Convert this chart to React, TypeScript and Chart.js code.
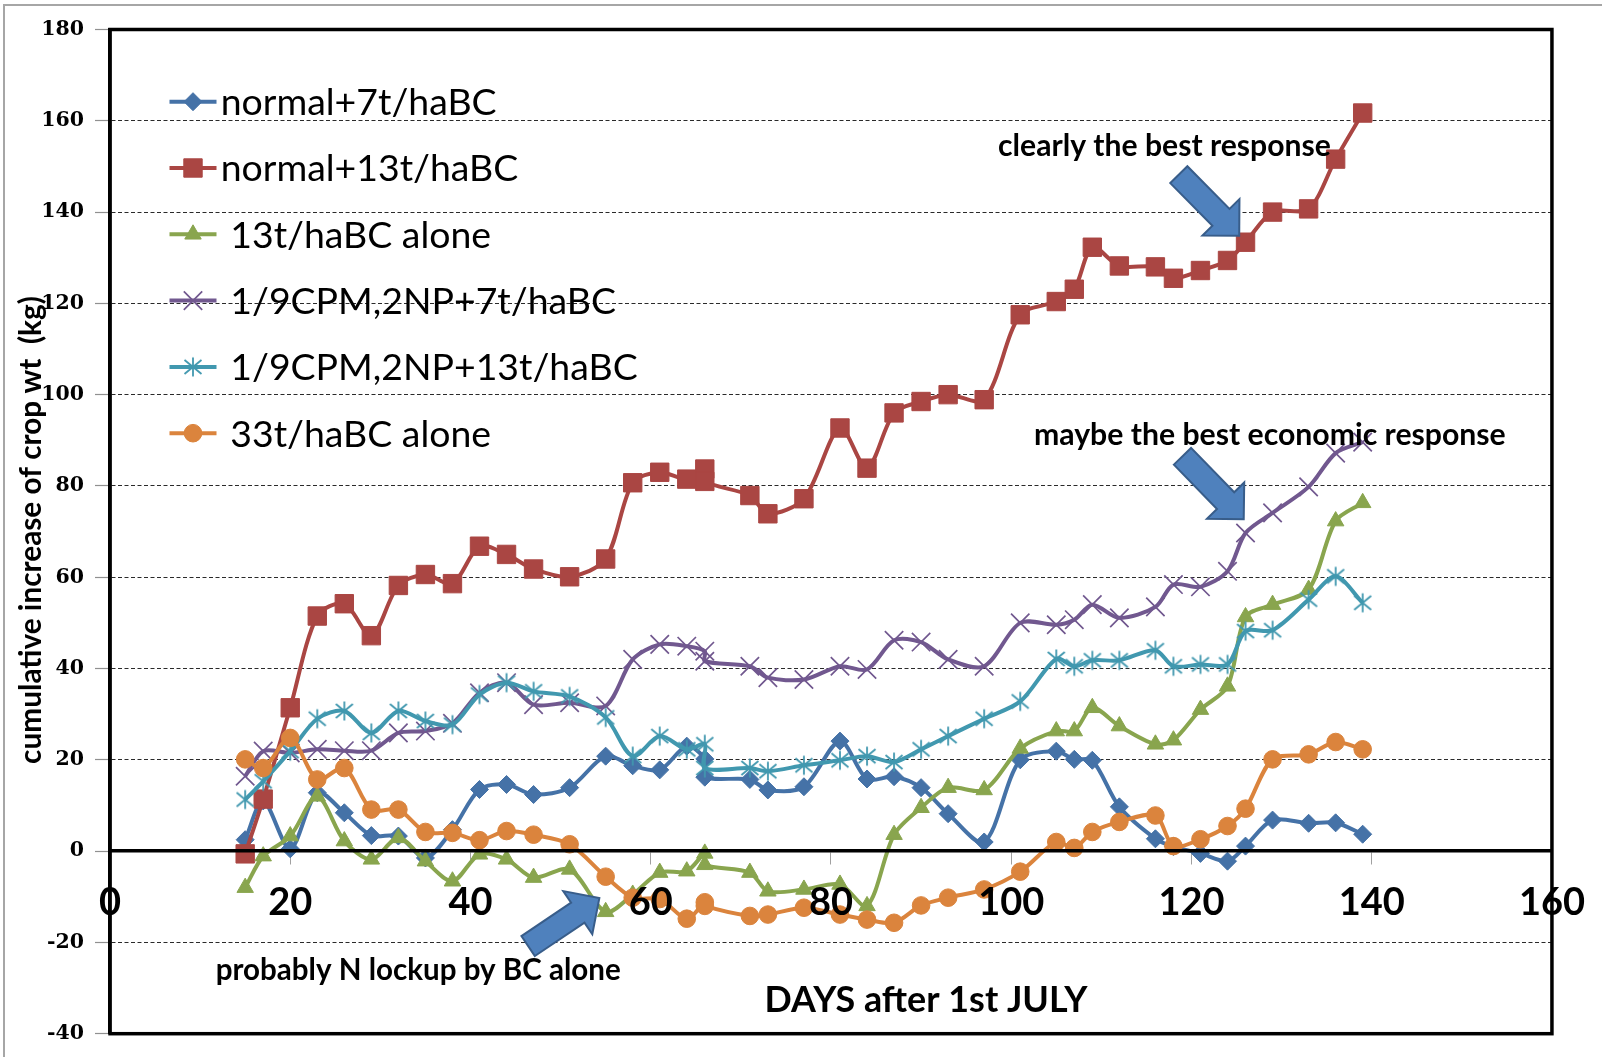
import React, { useEffect, useRef } from 'react';
import { Chart, registerables } from 'chart.js';
import { drawPoint } from 'chart.js/helpers';

Chart.register(...registerables);

// ---------------- data ----------------
const DAYS = [15, 17, 20, 23, 26, 29, 32, 35, 38, 41, 44, 47, 51, 55, 58, 61, 64, 66, 66, 71, 73, 77, 81, 84, 87, 90, 93, 97, 101, 105, 107, 109, 112, 116, 118, 121, 124, 126, 129, 133, 136, 139];

const NORMAL_7T = [2.5, 11, 0.5, 12.8, 8.4, 3.4, 3.3, -1.5, 4.7, 13.5, 14.6, 12.4, 13.9, 20.8, 18.7, 17.8, 23.0, 20.2, 16.2, 15.7, 13.4, 14.1, 24.1, 15.8, 16.3, 13.9, 8.2, 2.0, 20.0, 21.9, 20.1, 19.9, 9.7, 2.7, 1.0, -0.5, -2.2, 1.1, 6.8, 6.1, 6.2, 3.7];
const NORMAL_13T = [-0.6, 11.4, 31.4, 51.5, 54.2, 47.2, 58.2, 60.6, 58.6, 66.8, 65.0, 61.8, 60.1, 64.0, 80.7, 83.0, 81.5, 83.7, 81.0, 77.9, 73.9, 77.2, 92.7, 83.9, 96.0, 98.5, 100.0, 98.9, 117.5, 120.4, 123.1, 132.3, 128.2, 128.0, 125.5, 127.2, 129.4, 133.4, 140.0, 140.7, 151.6, 161.7];
const BC13_ALONE = [-8.0, -1.1, 3.3, 12.0, 2.2, -1.8, 2.9, -2.2, -6.6, -0.7, -1.8, -5.8, -4.0, -13.3, -9.5, -4.7, -4.4, -0.5, -3.0, -4.7, -8.8, -8.4, -7.3, -12.0, 3.6, 9.5, 13.9, 13.4, 22.5, 26.3, 26.3, 31.4, 27.4, 23.4, 24.3, 31.0, 36.1, 51.3, 54.0, 57.3, 72.3, 76.3];
const CPM_7T = [16.4, 21.9, 21.5, 22.3, 22.0, 22.0, 25.9, 26.3, 28.0, 34.7, 36.9, 32.1, 32.5, 31.8, 42.0, 45.3, 44.9, 43.8, 41.6, 40.5, 38.0, 37.6, 40.5, 39.8, 46.2, 45.8, 42.0, 40.5, 50.0, 49.6, 50.7, 54.0, 51.1, 53.5, 58.4, 57.9, 61.3, 69.7, 74.1, 79.8, 87.2, 89.6];
const CPM_13T = [11.3, 15.3, 21.9, 29.0, 30.7, 25.9, 30.7, 28.5, 27.7, 34.3, 36.9, 35.0, 33.9, 29.3, 20.8, 25.2, 22.3, 23.4, 18.2, 18.2, 17.5, 18.8, 19.9, 20.8, 19.5, 22.3, 25.2, 29.0, 32.8, 42.1, 40.5, 41.8, 41.8, 44.0, 40.5, 40.9, 40.9, 48.2, 48.4, 55.1, 60.2, 54.4];
const BC33_ALONE = [20.1, 18.2, 24.8, 15.7, 18.2, 9.1, 9.1, 4.2, 4.0, 2.4, 4.4, 3.6, 1.5, -5.6, -10.2, -10.5, -14.8, -11.2, -12.0, -14.2, -13.9, -12.4, -13.9, -15.0, -15.7, -11.9, -10.2, -8.4, -4.5, 2.0, 0.7, 4.2, 6.4, 7.8, 1.1, 2.6, 5.5, 9.3, 20.1, 21.2, 23.9, 22.3];

const SERIES_LABELS = ['normal+7t/haBC', 'normal+13t/haBC', ' 13t/haBC alone', ' 1/9CPM,2NP+7t/haBC', ' 1/9CPM,2NP+13t/haBC', ' 33t/haBC alone'];
const SERIES_VALUES = [NORMAL_7T, NORMAL_13T, BC13_ALONE, CPM_7T, CPM_13T, BC33_ALONE];

const X_MIN = 0;
const X_MAX = 160;
const X_STEP = 20;
const Y_MIN = -40;
const Y_MAX = 180;
const Y_STEP = 20;

const X_TITLE = 'DAYS after 1st JULY';
const Y_TITLE = 'cumulative increase of crop wt  (kg)';

const NOTE_TEXTS = ['clearly the best response', 'maybe the best economic response', 'probably N lockup by BC alone'];
// anchor (data units): centre x, baseline y
const NOTE_X = [117.0, 128.7, 34.2];
const NOTE_Y = [152.2, 89.0, -28.3];
const NOTE_W = [333, 472, 405];

// arrows in data units: tail -> tip
const ARROW_TAIL_X = [118.6, 119.0, 46.4];
const ARROW_TAIL_Y = [148.2, 86.5, -20.8];
const ARROW_TIP_X = [125.3, 125.8, 54.3];
const ARROW_TIP_Y = [134.8, 72.7, -10.3];

// ---------------- styles ----------------
const COLORS = ['#4572A7', '#AA4643', '#89A54E', '#71588F', '#4198AF', '#DB843D'];

function makeAsterisk(color: string): HTMLCanvasElement {
  const c = document.createElement('canvas');
  c.width = 22;
  c.height = 22;
  const g = c.getContext('2d')!;
  g.strokeStyle = color;
  g.lineWidth = 1.8;
  g.beginPath();
  g.moveTo(11, 1.5);
  g.lineTo(11, 20.5);
  g.moveTo(2.5, 4);
  g.lineTo(19.5, 18);
  g.moveTo(19.5, 4);
  g.lineTo(2.5, 18);
  g.stroke();
  return c;
}

function blockArrow(ctx: CanvasRenderingContext2D, x0: number, y0: number, x1: number, y1: number) {
  const shaftW = 24, headW = 52, headL = 26;
  const dx = x1 - x0, dy = y1 - y0;
  const len = Math.hypot(dx, dy);
  const ux = dx / len, uy = dy / len;
  const px = -uy, py = ux;
  const bx = x1 - ux * headL, by = y1 - uy * headL;
  const pts = [
    [x0 + px * shaftW / 2, y0 + py * shaftW / 2],
    [bx + px * shaftW / 2, by + py * shaftW / 2],
    [bx + px * headW / 2, by + py * headW / 2],
    [x1, y1],
    [bx - px * headW / 2, by - py * headW / 2],
    [bx - px * shaftW / 2, by - py * shaftW / 2],
    [x0 - px * shaftW / 2, y0 - py * shaftW / 2],
  ];
  ctx.save();
  ctx.beginPath();
  ctx.moveTo(pts[0][0], pts[0][1]);
  for (let i = 1; i < pts.length; i++) ctx.lineTo(pts[i][0], pts[i][1]);
  ctx.closePath();
  ctx.fillStyle = '#4F81BD';
  ctx.fill();
  ctx.strokeStyle = '#385D8A';
  ctx.lineWidth = 2;
  ctx.lineJoin = 'miter';
  ctx.stroke();
  ctx.restore();
}

function fitSize(ctx: CanvasRenderingContext2D, text: string, weight: string, family: string, target: number) {
  ctx.font = `${weight} 100px ${family}`;
  const w = ctx.measureText(text).width;
  return (100 * target) / w;
}

const decorPlugin = {
  id: 'decor',
  beforeDraw(chart: any) {
    const { ctx, width, height } = chart;
    ctx.save();
    ctx.fillStyle = '#ffffff';
    ctx.fillRect(0, 0, width, height);
    ctx.strokeStyle = '#a6a6a6';
    ctx.lineWidth = 2;
    ctx.beginPath();
    ctx.moveTo(4, height);
    ctx.lineTo(4, 5);
    ctx.lineTo(width, 5);
    ctx.stroke();
    ctx.restore();
  },
  afterDraw(chart: any) {
    const { ctx, chartArea: a } = chart;
    const xs = chart.scales.x;
    const ys = chart.scales.y;

    // plot area frame
    ctx.save();
    ctx.strokeStyle = '#000';
    ctx.lineWidth = 3.5;
    ctx.strokeRect(a.left, a.top, a.right - a.left, a.bottom - a.top);
    ctx.restore();

    // legend
    const family = 'Lato, "Open Sans", sans-serif';
    const legSize = fitSize(ctx, SERIES_LABELS[0], 'normal', family, 276);
    chart.data.datasets.forEach((ds: any, i: number) => {
      const cy = 101.7 + i * 66.3;
      ctx.save();
      ctx.strokeStyle = ds.borderColor;
      ctx.lineWidth = 4;
      ctx.beginPath();
      ctx.moveTo(169.5, cy);
      ctx.lineTo(216.5, cy);
      ctx.stroke();
      ctx.fillStyle = ds.pointBackgroundColor;
      ctx.strokeStyle = ds.pointBorderColor;
      ctx.lineWidth = ds.pointBorderWidth;
      drawPoint(ctx, { pointStyle: ds.pointStyle, rotation: 0, radius: ds.pointRadius, borderWidth: ds.pointBorderWidth }, 193, cy);
      ctx.fillStyle = '#000';
      ctx.font = `normal ${legSize}px ${family}`;
      ctx.textAlign = 'left';
      ctx.textBaseline = 'alphabetic';
      ctx.fillText(SERIES_LABELS[i], 220.7, cy + 13.3);
      ctx.restore();
    });

    // axis titles
    ctx.save();
    ctx.fillStyle = '#000';
    const xtSize = fitSize(ctx, X_TITLE, 'bold', family, 323);
    ctx.font = `bold ${xtSize}px ${family}`;
    ctx.textAlign = 'center';
    ctx.textBaseline = 'alphabetic';
    ctx.fillText(X_TITLE, 926, 1011.5);

    const ytSize = fitSize(ctx, Y_TITLE, 'bold', family, 468);
    ctx.translate(31, 530);
    ctx.rotate(-Math.PI / 2);
    ctx.font = `bold ${ytSize}px ${family}`;
    ctx.textAlign = 'center';
    ctx.textBaseline = 'middle';
    ctx.fillText(Y_TITLE, 0, 0);
    ctx.restore();

    // annotations
    NOTE_TEXTS.forEach((t, i) => {
      ctx.save();
      const s = fitSize(ctx, t, 'bold', family, NOTE_W[i]);
      ctx.font = `bold ${s}px ${family}`;
      ctx.fillStyle = '#000';
      ctx.textAlign = 'center';
      ctx.textBaseline = 'alphabetic';
      ctx.fillText(t, xs.getPixelForValue(NOTE_X[i]), ys.getPixelForValue(NOTE_Y[i]));
      ctx.restore();
    });

    // arrows
    for (let i = 0; i < ARROW_TIP_X.length; i++) {
      blockArrow(
        ctx,
        xs.getPixelForValue(ARROW_TAIL_X[i]),
        ys.getPixelForValue(ARROW_TAIL_Y[i]),
        xs.getPixelForValue(ARROW_TIP_X[i]),
        ys.getPixelForValue(ARROW_TIP_Y[i])
      );
    }
  },
};

export default function App() {
  const ref = useRef<HTMLCanvasElement>(null);

  useEffect(() => {
    document.body.style.margin = '0';
    document.body.style.overflow = 'hidden';
    const canvas = ref.current!;

    const pointStyles: any[] = ['rectRot', 'rect', 'triangle', 'crossRot', makeAsterisk(COLORS[4]), 'circle'];
    const radii = [9, 13, 9.5, 13, 11, 8.8];
    const pbw = [1, 1, 1, 1.7, 1, 1];

    const datasets = SERIES_VALUES.map((vals, i) => ({
      label: SERIES_LABELS[i].trim(),
      data: DAYS.map((d, j) => ({ x: d, y: vals[j] })),
      borderColor: COLORS[i],
      backgroundColor: COLORS[i],
      borderWidth: 4,
      pointStyle: pointStyles[i],
      pointRadius: radii[i],
      pointBorderWidth: pbw[i],
      pointBackgroundColor: COLORS[i],
      pointBorderColor: COLORS[i],
      tension: 0.3,
      order: SERIES_VALUES.length - i,
    }));

    const chart = new Chart(canvas, {
      type: 'line',
      data: { datasets },
      options: {
        responsive: false,
        maintainAspectRatio: false,
        animation: false,
        devicePixelRatio: 1,
        events: [],
        layout: { padding: { left: 0, top: 29.5, right: 39, bottom: 22 } },
        plugins: {
          legend: { display: false },
          tooltip: { enabled: false },
          title: { display: false },
        },
        scales: {
          x: {
            type: 'linear',
            min: X_MIN,
            max: X_MAX,
            position: { y: 0 } as any,
            ticks: {
              stepSize: X_STEP,
              color: '#000',
              font: { family: 'Lato, "Open Sans", sans-serif', weight: 'bold', size: 38 },
              padding: 17,
              maxRotation: 0,
              autoSkip: false,
              z: 1,
            },
            grid: {
              drawOnChartArea: false,
              drawTicks: true,
              tickLength: 12,
              tickColor: '#a0a0a0',
              tickWidth: 1,
            },
            border: { display: true, color: '#000', width: 3.5, z: 1 },
            afterFit: (s: any) => {
              s.height = 0;
            },
          },
          y: {
            type: 'linear',
            min: Y_MIN,
            max: Y_MAX,
            position: 'left',
            ticks: {
              stepSize: Y_STEP,
              color: '#000',
              font: { family: '"DejaVu Serif", serif', weight: 'bold', size: 20.5 },
              padding: 11,
            },
            grid: {
              color: '#2a2a2a',
              lineWidth: 1,
              drawTicks: true,
              tickLength: 15,
              tickColor: '#909090',
              tickWidth: 1.2,
              tickBorderDash: [],
            },
            border: { display: true, color: '#000', width: 3.5, dash: [4, 2.5] },
            afterFit: (s: any) => {
              s.width = 110;
            },
          },
        },
      } as any,
      plugins: [decorPlugin],
    });

    return () => chart.destroy();
  }, []);

  return (
    <div style={{ width: 1602, height: 1057 }}>
      <canvas ref={ref} width={1602} height={1057} style={{ display: 'block', width: 1602, height: 1057 }} />
    </div>
  );
}
